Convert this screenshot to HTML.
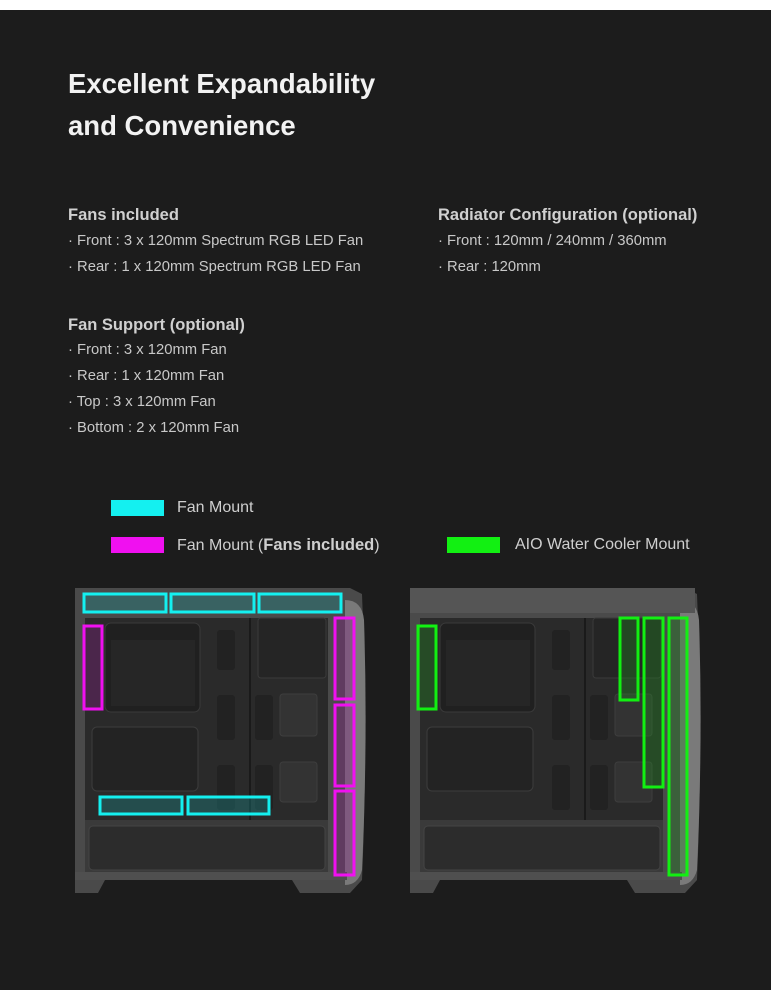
<!DOCTYPE html>
<html><head><meta charset="utf-8"><style>
html,body{margin:0;padding:0;background:#fff;}
#wrap{position:relative;width:771px;height:1000px;overflow:hidden;background:#fff;font-family:"Liberation Sans","Noto Sans CJK KR",sans-serif;}
#dark{position:absolute;left:0;top:10px;width:771px;height:980px;background:#1c1c1c;}
.t{position:absolute;white-space:nowrap;color:#d6d6d6;}
h1{position:absolute;left:68px;margin:0;font-size:27.5px;font-weight:bold;color:#f2f2f2;white-space:nowrap;}
.h{font-size:16.5px;font-weight:bold;color:#d0d0d0}
.i{font-size:14.8px;color:#c8c8c8}
.sw{position:absolute;width:53px;height:16px}
.lg{font-size:16px;color:#cfcfcf}
</style></head><body><div id="wrap"><div id="dark"></div>
<h1 style="top:68px">Excellent Expandability</h1>
<h1 style="top:110px">and Convenience</h1>

<div class="t h" style="left:68px;top:206px">Fans included</div>
<div class="t i" style="left:68px;top:233px">· Front : 3 x 120mm Spectrum RGB LED Fan</div>
<div class="t i" style="left:68px;top:259px">· Rear : 1 x 120mm Spectrum RGB LED Fan</div>

<div class="t h" style="left:438px;top:206px">Radiator Configuration (optional)</div>
<div class="t i" style="left:438px;top:233px">· Front : 120mm / 240mm / 360mm</div>
<div class="t i" style="left:438px;top:259px">· Rear : 120mm</div>

<div class="t h" style="left:68px;top:316px">Fan Support (optional)</div>
<div class="t i" style="left:68px;top:342px">· Front : 3 x 120mm Fan</div>
<div class="t i" style="left:68px;top:368px">· Rear : 1 x 120mm Fan</div>
<div class="t i" style="left:68px;top:394px">· Top : 3 x 120mm Fan</div>
<div class="t i" style="left:68px;top:420px">· Bottom : 2 x 120mm Fan</div>

<div class="sw" style="left:111px;top:500px;background:#14f0f0"></div>
<div class="t lg" style="left:177px;top:499px">Fan Mount</div>
<div class="sw" style="left:111px;top:537px;background:#f010f0"></div>
<div class="t lg" style="left:177px;top:536px">Fan Mount (<b style="font-size:16.5px">Fans included</b>)</div>
<div class="sw" style="left:447px;top:537px;background:#12f012"></div>
<div class="t lg" style="left:515px;top:536px">AIO Water Cooler Mount</div>

<svg style="position:absolute;left:0;top:0" width="771" height="1000">
<defs>
<g id="case">
 <path d="M75 588 L350 588 L362 594 Q368 740 362 880 L350 893 L300 893 L292 880 L105 880 L98 893 L75 893 Z" fill="#4a4a4a"/>
 <path d="M345 600 Q362 600 364 620 Q368 740 362 870 Q358 885 345 885 Z" fill="#7a7a7a"/>
 <rect x="85" y="618" width="243" height="202" fill="#2a2a2a"/>
 <rect x="105" y="623" width="95" height="89" rx="6" fill="#202020" stroke="#3a3a3a"/>
 <rect x="111" y="640" width="84" height="66" fill="#262626"/>
 <rect x="92" y="727" width="106" height="64" rx="5" fill="#232323" stroke="#3c3c3c"/>
 <rect x="217" y="630" width="18" height="40" rx="3" fill="#222"/>
 <rect x="217" y="695" width="18" height="45" rx="3" fill="#222"/>
 <rect x="217" y="765" width="18" height="45" rx="3" fill="#222"/>
 <rect x="255" y="695" width="18" height="45" rx="3" fill="#222"/>
 <rect x="255" y="765" width="18" height="45" rx="3" fill="#222"/>
 <rect x="249" y="618" width="2" height="202" fill="#1a1a1a"/>
 <rect x="258" y="618" width="68" height="60" rx="3" fill="#252525" stroke="#3a3a3a"/>
 <rect x="280" y="694" width="37" height="42" rx="3" fill="#333" stroke="#3e3e3e"/>
 <rect x="280" y="762" width="37" height="40" rx="3" fill="#333" stroke="#3e3e3e"/>
 <rect x="85" y="820" width="243" height="52" fill="#3a3a3a"/>
 <rect x="89" y="826" width="236" height="44" rx="4" fill="#2c2c2c" stroke="#444"/>
 <rect x="75" y="872" width="272" height="8" fill="#4f4f4f"/>
</g>
</defs>
<use href="#case"/>
<use href="#case" transform="translate(335,0)"/>
<rect x="410" y="588" width="285" height="25" fill="#555"/>
<g stroke-width="3" fill-opacity="0.35">
 <g stroke="#14f0f0" fill="#1a8e8e">
  <rect x="84" y="594" width="82" height="18"/>
  <rect x="171" y="594" width="83" height="18"/>
  <rect x="259" y="594" width="82" height="18"/>
  <rect x="100" y="797" width="82" height="17"/>
  <rect x="188" y="797" width="81" height="17"/>
 </g>
 <g stroke="#f010f0" fill="#8a208a">
  <rect x="84" y="626" width="18" height="83"/>
  <rect x="335" y="618" width="19" height="81"/>
  <rect x="335" y="705" width="19" height="81"/>
  <rect x="335" y="791" width="19" height="84"/>
 </g>
 <g stroke="#12f012" fill="#1f8a1f">
  <rect x="418" y="626" width="18" height="83"/>
  <rect x="620" y="618" width="18" height="82"/>
  <rect x="644" y="618" width="19" height="169"/>
  <rect x="669" y="618" width="18" height="257"/>
 </g>
</g>
</svg>
</div></body></html>
